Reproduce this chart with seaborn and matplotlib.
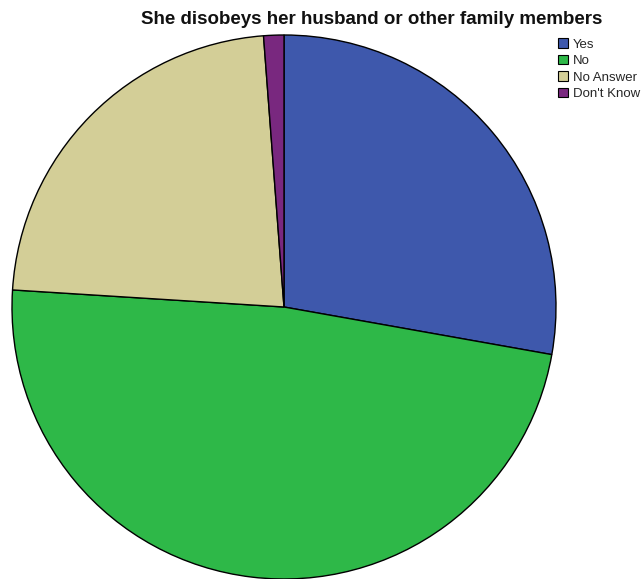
import matplotlib
matplotlib.use("Agg")
import matplotlib.pyplot as plt
import seaborn as sns
from matplotlib.patches import Patch

categories = ["Yes", "No", "No Answer", "Don't Know"]
percentages = [27.8, 48.2, 22.8, 1.2]
colors = ["#3E58AC", "#2EB848", "#D3CE97", "#79287F"]
title = "She disobeys her husband or other family members"

sns.set_theme(style="white")
plt.rcParams["font.family"] = ["Arial", "Liberation Sans", "DejaVu Sans"]

W, H = 641, 579
fig = plt.figure(figsize=(W / 100, H / 100), dpi=100)
fig.patch.set_facecolor("white")

cx, cy, r = 284, 307, 272
ax = fig.add_axes([(cx - r) / W, (H - cy - r) / H, 2 * r / W, 2 * r / H])
palette = sns.color_palette(colors)
ax.pie(percentages, colors=palette, startangle=90, counterclock=False,
       radius=1.0, wedgeprops=dict(edgecolor="black", linewidth=1.0))
ax.set_xlim(-1.0, 1.0)
ax.set_ylim(-1.0, 1.0)
ax.set_aspect("auto")
ax.axis("off")

fig.text(372 / W, 1 - 20 / H, title, ha="center", va="center",
         fontsize=13.5, fontweight="bold", color="#111111")

handles = [Patch(facecolor=c, edgecolor="black", linewidth=0.8) for c in palette]
leg = fig.legend(handles, categories, loc="upper left",
                 bbox_to_anchor=(558 / W, 1 - 38 / H), frameon=False,
                 fontsize=9.5, handlelength=0.78, handleheight=0.78,
                 handletextpad=0.35, labelspacing=0.3, borderpad=0.0,
                 borderaxespad=0.0)

fig.savefig("out.png", dpi=100, facecolor="white")
